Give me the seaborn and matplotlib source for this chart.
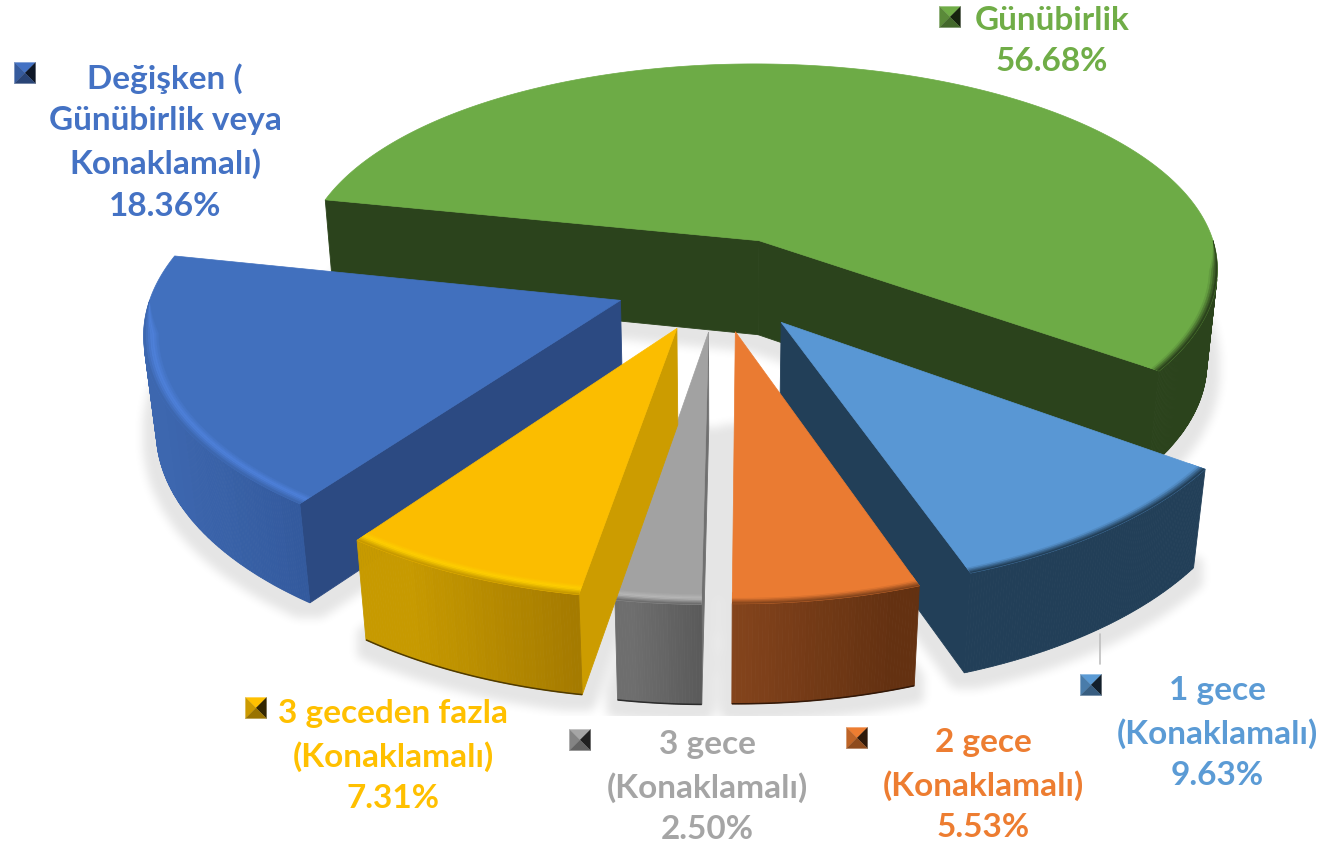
#!/usr/bin/env python3
"""Exploded 3D pie of trip durations, projected by hand onto a flat axes"""

import matplotlib
matplotlib.use('Agg')
import matplotlib.pyplot as plt
from matplotlib.path import Path
import numpy as np
import seaborn as sns

# slices in clockwise order, starting with the big green one
labels = ['Günübirlik', '1 gece\n(Konaklamalı)', '2 gece\n(Konaklamalı)',
          '3 gece\n(Konaklamalı)', '3 geceden fazla\n(Konaklamalı)',
          'Değişken (\nGünübirlik veya\nKonaklamalı)']
values = [56.68, 9.63, 5.53, 2.50, 7.31, 18.36]

text_colors = ['#70AD47', '#5B9BD5', '#ED7D31', '#A5A5A5', '#FFC000', '#4472C4']
top_colors = ['#6DAB46', '#5997D4', '#EA7B32', '#A2A2A2', '#FBBD00', '#4170BE']
face_colors = ['#2B431C', '#223F58', '#6E3715', '#707070', '#CC9C00', '#2C4A82']
rim_left = ['#2B431C', '#223F58', '#84441C', '#6E6E6E', '#C79A00', '#3D67AF']
rim_right = ['#2B431C', '#223F58', '#643111', '#595959', '#9F7500', '#2F5597']
bevel_mid = ['#6DAB46', '#5997D4', '#EA7B32', '#B8B8B8', '#FFD000', '#4F82DC']

label_xy = [(1052, 41), (1217, 733), (983, 785), (707, 787), (393, 756), (165, 142)]
key_xy = [(950, 18), (1091, 686), (857, 739), (580, 741), (256, 709), (25, 74)]

# camera numbers fitted to the picture, in pixels
CX, CY = 718, 284
RX, RY = 466, 215
PERSP_X, PERSP, PERSP_Z = 0.13, 0.15, 0.041
PERSP_ZX = 0.022
DEPTH = 99
EXPLODE = 0.222
START = 168.0
DRAW_ORDER = [0, 5, 1, 2, 3, 4]


def project(x, y, z=0.0):
    wx = 1 / (1 + PERSP_X * y + PERSP_ZX * z)
    w = 1 / (1 + PERSP * y + PERSP_Z * z)
    return CX + RX * x * wx, CY - RY * y * w + DEPTH * z * w


def ring(t, r, off):
    return off[0] + r * np.cos(t), off[1] + r * np.sin(t)


def signed_area(px, py):
    return np.sum(px * np.roll(py, -1) - np.roll(px, -1) * py)


def draw_face(ax, pts, color, z):
    px = np.array([p[0] for p in pts])
    py = np.array([p[1] for p in pts])
    if signed_area(px, py) < 0:
        ax.fill(px, py, fc=color, ec=color, lw=0.6, zorder=z)


def box(a, r):
    for axis in (0, 1):
        c = np.cumsum(np.pad(a, [(r + 1, r) if i == axis else (0, 0) for i in (0, 1)], mode='edge'), axis=axis)
        if axis == 0:
            a = (c[2 * r + 1:, :] - c[:-(2 * r + 1), :]) / (2 * r + 1)
        else:
            a = (c[:, 2 * r + 1:] - c[:, :-(2 * r + 1)]) / (2 * r + 1)
    return a


sns.set_theme(style='white')
plt.rcParams['font.family'] = ['Lato', 'DejaVu Sans']

fig = plt.figure(figsize=(13.22, 8.45), dpi=100)
ax = fig.add_axes([0, 0, 1, 1])
ax.set_xlim(0, 1322)
ax.set_ylim(845, 0)
ax.axis('off')

# slice angles from the values
shares = np.array(values) / np.sum(values) * 360
ends = START - np.cumsum(shares)
starts = ends + shares

# floor shadow: footprints, grown then blurred, cut by the plot area
gx, gy = np.meshgrid(np.arange(1322) + 0.5, np.arange(845) + 0.5)
grid = np.column_stack([gx.ravel(), gy.ravel()])
mask = np.zeros(gx.shape)
for i in range(len(values)):
    t = np.radians(np.linspace(starts[i], ends[i], 60))
    mid = np.radians((starts[i] + ends[i]) / 2)
    off = (EXPLODE * np.cos(mid), EXPLODE * np.sin(mid))
    fx, fy = ring(t, 1.0, off)
    fx = np.r_[off[0], fx]
    fy = np.r_[off[1], fy]
    sx, sy = project(fx, fy, 1.0)
    inside = Path(np.column_stack([sx, sy + 4])).contains_points(grid)
    mask = np.maximum(mask, inside.reshape(gx.shape).astype(float))
grown = (box(mask, 14) > 0.02).astype(float)
soft = box(box(grown, 5), 5)
soft[717:, :] = 0
shadow = np.zeros(gx.shape + (4,))
shadow[..., 3] = soft * 0.105
ax.imshow(shadow, extent=(0, 1322, 845, 0), aspect='auto', zorder=0.5, interpolation='bilinear')

# the slices, back to front
for layer, i in enumerate(DRAW_ORDER):
    z = 2 + layer
    mid = np.radians((starts[i] + ends[i]) / 2)
    off = (EXPLODE * np.cos(mid), EXPLODE * np.sin(mid))
    n = max(int(shares[i]), 12) * 3
    t = np.radians(np.linspace(starts[i], ends[i], n + 1))
    ox, oy = ring(t, 1.0, off)

    # straight cut faces
    tip = project(off[0], off[1])
    tip_low = project(off[0], off[1], 1.0)
    first, first_low = project(ox[0], oy[0]), project(ox[0], oy[0], 1.0)
    last, last_low = project(ox[-1], oy[-1]), project(ox[-1], oy[-1], 1.0)
    draw_face(ax, [tip, first, first_low, tip_low], face_colors[i], z)
    draw_face(ax, [last, tip, tip_low, last_low], face_colors[i], z)

    # outer wall, shaded from screen left to right
    wall = sns.blend_palette([rim_left[i], rim_right[i]], 21)
    screen_left = project(ox.min(), 0)[0]
    screen_right = project(ox.max(), 0)[0]
    for j in range(n):
        a = project(ox[j], oy[j])
        b = project(ox[j + 1], oy[j + 1])
        c = project(ox[j + 1], oy[j + 1], 1.0)
        d = project(ox[j], oy[j], 1.0)
        f = np.clip((a[0] - screen_left) / max(screen_right - screen_left, 1), 0, 1)
        draw_face(ax, [a, b, c, d], wall[int(f * 20)], z)

    # dark line along the floor on the lit walls
    if i in (2, 3, 4):
        bx, by = project(ox, oy, 1.0)
        ax.plot(bx, by, color=sns.blend_palette([rim_right[i], '#000000'], 3)[1], lw=1.1, zorder=z, solid_capstyle='butt')

    # top
    tx, ty = project(ox, oy)
    ax.fill(np.r_[tip[0], tx], np.r_[tip[1], ty], fc=top_colors[i], ec=top_colors[i], lw=0.5, zorder=z)

    # soft bevel where top meets wall, fading out towards the far side
    radii = np.linspace(0.965, 1.0, 9)
    bevel = sns.blend_palette([top_colors[i], bevel_mid[i], rim_left[i]], 8)
    tb = t[np.sin(t) < 0.0]
    taper = np.clip(-np.sin(tb) / 0.15, 0, 1)
    for k in range(8):
        ax1, ay1 = ring(tb, 1 - (1 - radii[k]) * taper, off)
        ax2, ay2 = ring(tb[::-1], (1 - (1 - radii[k + 1]) * taper)[::-1], off)
        bxp, byp = project(np.r_[ax1, ax2], np.r_[ay1, ay2])
        ax.fill(bxp, byp, fc=bevel[k], ec=bevel[k], lw=0.3, zorder=z)

# little bevelled legend keys
for i, (kx, ky) in enumerate(key_xy):
    s = 21
    shades = sns.blend_palette([text_colors[i], '#000000'], 6)
    c = (kx, ky)
    nw, ne = (kx - s / 2, ky - s / 2), (kx + s / 2, ky - s / 2)
    sw, se = (kx - s / 2, ky + s / 2), (kx + s / 2, ky + s / 2)
    for tri, col in [((nw, ne, c), shades[0]), ((nw, sw, c), shades[1]),
                     ((ne, se, c), shades[4]), ((sw, se, c), shades[2])]:
        ax.fill(*zip(*tri), fc=col, ec=col, lw=0.2, zorder=20)

# leader for the 1 gece label
ax.plot([1100, 1100], [635, 665], color='#BFBFBF', lw=1.2, zorder=20)

for i, (lx, ly) in enumerate(label_xy):
    ax.text(lx, ly, f'{labels[i]}\n{values[i]:.2f}%', color=text_colors[i], fontsize=24,
            fontweight='bold', ha='center', va='center', linespacing=1.52, zorder=21)

fig.savefig('out.png', dpi=100)
plt.close(fig)
